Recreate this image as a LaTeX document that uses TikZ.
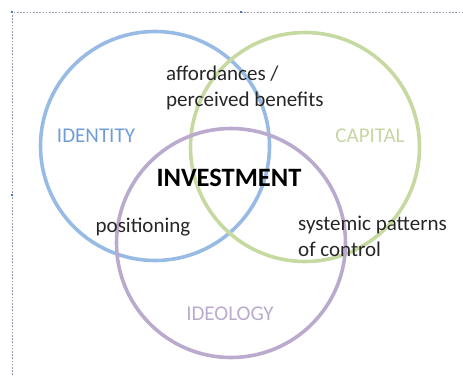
\documentclass[tikz,border=0pt]{standalone}
\usepackage{fontspec}
\setmainfont{Carlito}

\definecolor{idblue}{HTML}{98BBE5}
\definecolor{idbluetext}{HTML}{6F9DD9}
\definecolor{capgreen}{HTML}{C6D9A0}
\definecolor{capgreentext}{HTML}{C6D6A2}
\definecolor{ideopurple}{HTML}{BAABCE}
\definecolor{framegray}{HTML}{8E97A6}
\definecolor{handleblue}{HTML}{4A7BC0}

\begin{document}
\begin{tikzpicture}[x=1pt, y=-1pt,
  ring/.style={circle, draw=#1, line width=3.6pt, minimum size=229pt, inner sep=0pt},
  lbl/.style={inner sep=0pt, text=black!85, font=\fontsize{21}{26}\selectfont, align=left},
  setname/.style={inner sep=0pt, text=#1, font=\fontsize{21}{26}\selectfont}]

\def\R{114.5}   % ring radius
\useasboundingbox (0,0) rectangle (463,375);

% frame on the left and top, with its handles
\draw[framegray, dash pattern=on 1.6pt off 1.6pt, line width=0.8pt] (12,375) -- (12,12) -- (463,12);
\foreach \hx/\hy in {12/12, 241/12, 12/195}
  \fill[handleblue] (\hx-1.3,\hy-1.3) rectangle (\hx+1.3,\hy+1.3);

% the three sets
\node[ring=idblue]     (identity) at (155,146) {};
\node[ring=capgreen]   (capital)  at (305,147) {};
\node[ring=ideopurple] (ideology) at (231,243) {};

% set names
\node[setname=idbluetext]   (identitylbl) at (96,136)  {IDENTITY};
\node[setname=capgreentext] (capitallbl)  at (370,136) {CAPITAL};
\node[setname=ideopurple]   (ideologylbl) at (230,314) {IDEOLOGY};

% overlaps
\node[lbl, anchor=west] (afford) at (166,88) {affordances /\\perceived benefits};
\node[lbl, font=\fontsize{26.5}{30}\selectfont\bfseries, text=black] (invest) at (229,178) {INVESTMENT};
\node[lbl] (position) at (143,227) {positioning};
\node[lbl, anchor=west] (control) at (298,236) {systemic patterns\\of control};

\end{tikzpicture}
\end{document}
